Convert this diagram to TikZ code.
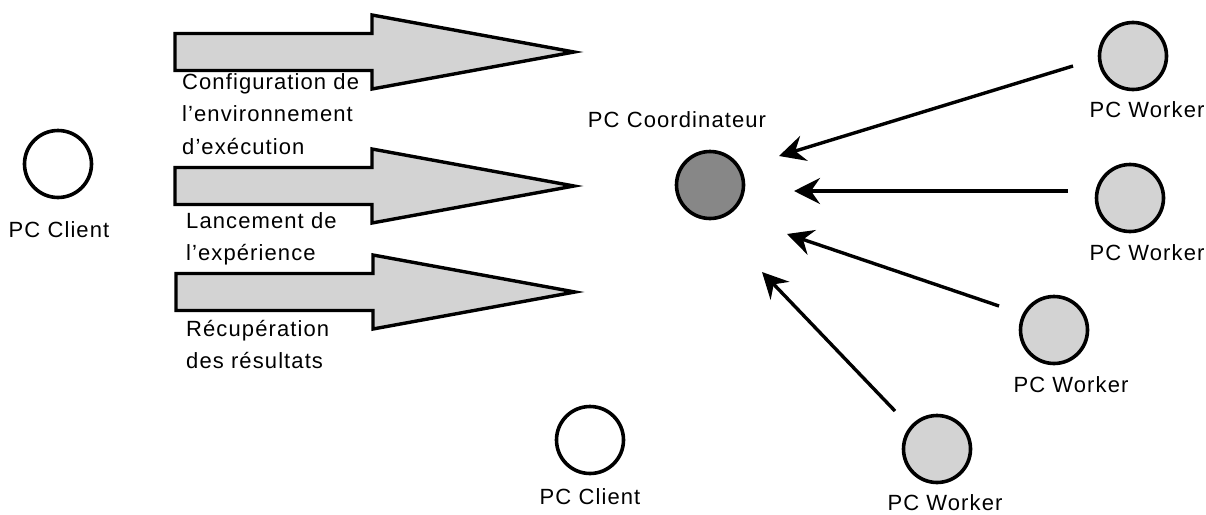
\documentclass[tikz,border=0pt]{standalone}
\usepackage{fontspec}
\setmainfont{Liberation Sans}[LetterSpace=5]
\usetikzlibrary{arrows.meta}

\definecolor{lightfill}{HTML}{D3D3D3}
\definecolor{darkfill}{HTML}{878787}

\tikzset{
  pcnode/.style={circle, draw=black, line width=3.6pt, minimum size=67pt, inner sep=0pt, fill=white},
  workernode/.style={pcnode, fill=lightfill},
  coordnode/.style={pcnode, fill=darkfill},
  lbl/.style={inner sep=0pt, font=\fontsize{22}{32.5}\selectfont},
  blocklbl/.style={lbl, align=left, anchor=north west},
  flow/.style={line width=3.4pt, -{Stealth[length=26pt,width=26pt,inset=9pt]}},
  bigarrow/.pic={
    \draw[line width=3.4pt, fill=lightfill, miter limit=20]
      (0,-18.5) -- (197,-18.5) -- (197,-37) -- (399,0) -- (197,37)
      -- (197,18.5) -- (0,18.5) -- cycle;
  }
}

\begin{document}
\begin{tikzpicture}[x=1pt,y=-1pt]
\useasboundingbox (0,0) rectangle (1206,514);

% machines
\node[pcnode]     (clientA) at (58,164)  {};
\node[pcnode]     (clientB) at (590,440) {};
\node[coordnode]  (coord)   at (710,185) {};
\node[workernode] (w1)      at (1133,56) {};
\node[workernode] (w2)      at (1130,198) {};
\node[workernode] (w3)      at (1054,330) {};
\node[workernode] (w4)      at (937,449) {};

% machine labels
\node[lbl] (clientAlbl) at (59,230)    {PC Client};
\node[lbl] (clientBlbl) at (590,497)   {PC Client};
\node[lbl] (coordlbl)   at (677,120)   {PC Coordinateur};
\node[lbl] (w1lbl)      at (1147,110)  {PC Worker};
\node[lbl] (w2lbl)      at (1147,253)  {PC Worker};
\node[lbl] (w3lbl)      at (1071,385)  {PC Worker};
\node[lbl] (w4lbl)      at (945,503)   {PC Worker};

% client-to-coordinator phases
\pic at (175,52)  {bigarrow};
\pic at (175,186) {bigarrow};
\pic at (176,292) {bigarrow};

\node[blocklbl] (phase1) at (182,73) {Configuration de\\l’environnement\\d’exécution};
\node[blocklbl] (phase2) at (186,212) {Lancement de\\l’expérience};
\node[blocklbl] (phase3) at (186,320) {Récupération\\des résultats};

% workers reporting to the coordinator
\coordinate (w1out) at (1073,66);
\coordinate (w2out) at (1068,191);
\coordinate (w3out) at (999,306);
\coordinate (w4out) at (895,411);
\coordinate (in1) at (779,156);
\coordinate (in2) at (794,191);
\coordinate (in3) at (787,234);
\coordinate (in4) at (762,272);

\draw[flow] (w1out) -- (in1);
\draw[flow] (w2out) -- (in2);
\draw[flow] (w3out) -- (in3);
\draw[flow] (w4out) -- (in4);
\end{tikzpicture}
\end{document}
